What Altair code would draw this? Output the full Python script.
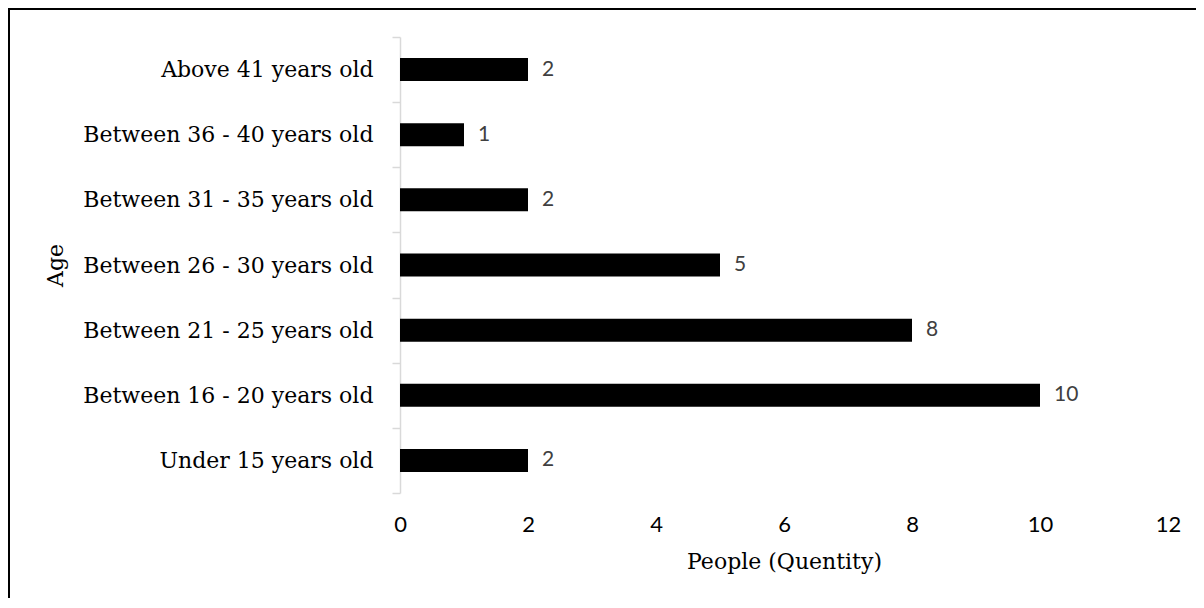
import altair as alt
import pandas as pd

categories = [
    "Above 41 years old",
    "Between 36 - 40 years old",
    "Between 31 - 35 years old",
    "Between 26 - 30 years old",
    "Between 21 - 25 years old",
    "Between 16 - 20 years old",
    "Under 15 years old",
]
people = [2, 1, 2, 5, 8, 10, 2]
x_ticks = [0, 2, 4, 6, 8, 10, 12]

df = pd.DataFrame({"age": categories, "people": people})

W, H = 768, 456
SERIF = "DejaVu Serif"
SANS = "Lato"

y_enc = alt.Y(
    "age:N",
    sort=categories,
    scale=alt.Scale(paddingInner=0, paddingOuter=0),
    axis=alt.Axis(
        title="Age",
        titleFont=SERIF,
        titleFontSize=22,
        titleFontWeight="normal",
        titleColor="black",
        titleAngle=270,
        titleAlign="center",
        titleBaseline="alphabetic",
        titleX=-338,
        titleY=H / 2,
        labelFont=SERIF,
        labelFontSize=22,
        labelColor="black",
        labelPadding=19,
        labelLimit=0,
        tickBand="extent",
        tickSize=8,
        tickColor="#d9d9d9",
        domainColor="#d9d9d9",
        domainWidth=1.5,
        tickWidth=1.5,
        grid=False,
    ),
)

x_enc = alt.X(
    "people:Q",
    scale=alt.Scale(domain=[0, 12], nice=False),
    axis=alt.Axis(
        values=x_ticks,
        format="d",
        title="People (Quentity)",
        titleFont=SERIF,
        titleFontSize=22,
        titleFontWeight="normal",
        titleColor="black",
        titlePadding=16,
        labelFont=SANS,
        labelFontSize=22,
        labelColor="black",
        labelPadding=21,
        labelFlush=False,
        domain=False,
        ticks=False,
        grid=False,
    ),
)

bars = alt.Chart(df).mark_bar(color="black", size=23).encode(x=x_enc, y=y_enc)

labels = alt.Chart(df).mark_text(
    align="left", baseline="middle", dx=14, font=SANS, fontSize=21, color="#404040"
).encode(
    x=alt.X("people:Q"),
    y=alt.Y("age:N", sort=categories),
    text="people:Q",
)

border = alt.Chart(pd.DataFrame({"b": [0]})).mark_rect(
    filled=False, stroke="black", strokeWidth=2
).encode(
    x=alt.value(-391),
    x2=alt.value(W + 60),
    y=alt.value(-28),
    y2=alt.value(H + 140),
)

chart = alt.layer(bars, labels, border).properties(
    width=W,
    height=H,
    padding={"left": 392, "top": 29, "right": 28, "bottom": 105},
    autosize=alt.AutoSizeParams(type="none"),
).configure(background="white").configure_view(strokeWidth=0, stroke="transparent")

chart.save("out.html", embed_options={"renderer": "svg", "actions": False})
